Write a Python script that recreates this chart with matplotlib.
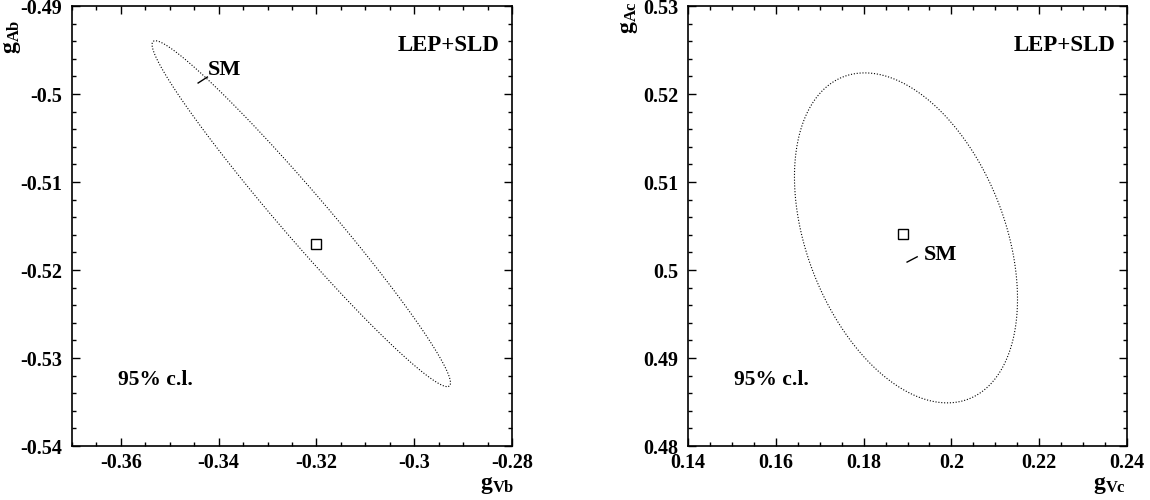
import numpy as np
import matplotlib
matplotlib.use("Agg")
import matplotlib.pyplot as plt
from matplotlib.ticker import MultipleLocator, FuncFormatter

plt.rcParams['font.family'] = ['Liberation Serif', 'DejaVu Serif']
plt.rcParams['font.weight'] = 'bold'
plt.rcParams['axes.unicode_minus'] = False
plt.rcParams['mathtext.fontset'] = 'custom'
plt.rcParams['mathtext.bf'] = 'Liberation Serif:bold'
plt.rcParams['mathtext.rm'] = 'Liberation Serif:bold'

# fit results: centre, sigmas, correlation
b_center = (-0.3231, -0.5136)
b_sigma = (0.01247, 0.00803)
b_rho = -0.978
b_meas = (-0.320, -0.517)
b_sm_line = ([-0.3442, -0.3423], [-0.49875, -0.49807])

c_center = (0.18965, 0.50365)
c_sigma = (0.01038, 0.00766)
c_rho = -0.37
c_meas = (0.189, 0.5041)
c_sm_line = ([0.1899, 0.1922], [0.5009, 0.5015])

chi2_95 = 5.99

fig = plt.figure(figsize=(11.5, 5), dpi=100)
axL = fig.add_axes([0.0626, 0.108, 0.3826, 0.88])
axR = fig.add_axes([0.5983, 0.108, 0.3817, 0.88])


def contour95(ax, center, sigma, rho, xlim, ylim):
    x = np.linspace(xlim[0], xlim[1], 600)
    y = np.linspace(ylim[0], ylim[1], 600)
    X, Y = np.meshgrid(x, y)
    dx = (X - center[0]) / sigma[0]
    dy = (Y - center[1]) / sigma[1]
    chi2 = (dx**2 - 2 * rho * dx * dy + dy**2) / (1 - rho**2)
    ax.contour(X, Y, chi2, levels=[chi2_95], colors='black',
               linewidths=0.8, linestyles=[(0, (1, 1.6))])


def style(ax, xlim, ylim):
    ax.set_xlim(*xlim)
    ax.set_ylim(*ylim)
    ax.xaxis.set_major_locator(MultipleLocator(0.02))
    ax.xaxis.set_minor_locator(MultipleLocator(0.005))
    ax.yaxis.set_major_locator(MultipleLocator(0.01))
    ax.yaxis.set_minor_locator(MultipleLocator(0.002))
    fmt = FuncFormatter(lambda v, p: '%g' % round(v, 4))
    ax.xaxis.set_major_formatter(fmt)
    ax.yaxis.set_major_formatter(fmt)
    ax.tick_params(which='both', direction='in', top=True, right=True,
                   width=1.0, labelsize=14.5)
    ax.tick_params(which='major', length=6)
    ax.tick_params(which='minor', length=3)
    ax.tick_params(axis='x', pad=5)
    ax.tick_params(axis='y', pad=7)
    for lab in ax.get_xticklabels() + ax.get_yticklabels():
        lab.set_fontweight('bold')
    for s in ax.spines.values():
        s.set_linewidth(1.2)


# left: b quark
xl, yl = (-0.37, -0.28), (-0.54, -0.49)
contour95(axL, b_center, b_sigma, b_rho, xl, yl)
axL.plot(*b_meas, marker='s', ms=7, mfc='white', mec='black', mew=1.0)
axL.plot(*b_sm_line, color='black', lw=1.0)
axL.text(-0.3423, -0.4973, 'SM', fontsize=16, fontweight='bold', ha='left', va='center')
style(axL, xl, yl)

# right: c quark
xr, yr = (0.14, 0.24), (0.48, 0.53)
contour95(axR, c_center, c_sigma, c_rho, xr, yr)
axR.plot(*c_meas, marker='s', ms=7, mfc='white', mec='black', mew=1.0)
axR.plot(*c_sm_line, color='black', lw=1.0)
axR.text(0.1937, 0.5017, 'SM', fontsize=16, fontweight='bold', ha='left', va='center')
style(axR, xr, yr)

for ax in (axL, axR):
    ax.text(0.857, 0.91, 'LEP+SLD', transform=ax.transAxes, fontsize=16.5,
            fontweight='bold', ha='center', va='center')
    ax.text(0.19, 0.15, '95% c.l.', transform=ax.transAxes, fontsize=15.5,
            fontweight='bold', ha='center', va='center')

fig.text(0.432, 0.03, r'$\mathbf{g_{Vb}}$', fontsize=17, ha='center', va='center')
fig.text(0.965, 0.03, r'$\mathbf{g_{Vc}}$', fontsize=17, ha='center', va='center')
fig.text(0.0105, 0.926, r'$\mathbf{g_{Ab}}$', fontsize=17, ha='center', va='center', rotation=90)
fig.text(0.547, 0.964, r'$\mathbf{g_{Ac}}$', fontsize=17, ha='center', va='center', rotation=90)

fig.savefig('out.png', dpi=100)
